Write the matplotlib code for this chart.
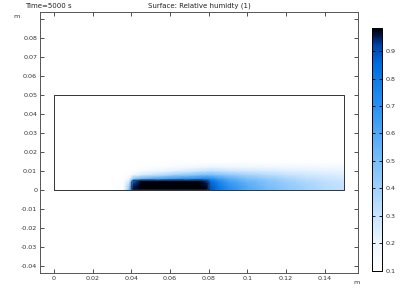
import numpy as np
import matplotlib
matplotlib.use('Agg')
import matplotlib.pyplot as plt
from matplotlib.colors import LinearSegmentedColormap
from matplotlib.patches import FancyBboxPatch

# malla de muestreo (m) y humedad relativa
xs = [0, 0.03, 0.036, 0.039, 0.041, 0.045, 0.06, 0.075, 0.079, 0.081,
      0.085, 0.09, 0.1, 0.11, 0.12, 0.13, 0.14, 0.15]
ys = [0, 0.002, 0.004, 0.005, 0.006, 0.008, 0.010, 0.012, 0.014, 0.016, 0.05]
hr = [
    [0.1, 0.1, 0.15, 0.5, 0.97, 1.0, 1.0, 1.0, 0.98, 0.9, 0.82, 0.72, 0.6, 0.52, 0.45, 0.4, 0.35, 0.32],
    [0.1, 0.1, 0.13, 0.42, 0.95, 1.0, 1.0, 1.0, 0.97, 0.88, 0.8, 0.7, 0.58, 0.5, 0.44, 0.39, 0.34, 0.31],
    [0.1, 0.1, 0.12, 0.32, 0.9, 1.0, 1.0, 1.0, 0.95, 0.86, 0.76, 0.66, 0.55, 0.48, 0.42, 0.37, 0.33, 0.3],
    [0.1, 0.1, 0.11, 0.26, 0.85, 0.96, 0.96, 0.96, 0.9, 0.82, 0.72, 0.62, 0.52, 0.46, 0.4, 0.35, 0.31, 0.29],
    [0.1, 0.1, 0.1, 0.2, 0.45, 0.55, 0.65, 0.72, 0.74, 0.72, 0.65, 0.58, 0.49, 0.43, 0.38, 0.33, 0.3, 0.27],
    [0.1, 0.1, 0.1, 0.12, 0.18, 0.25, 0.38, 0.48, 0.5, 0.5, 0.47, 0.44, 0.39, 0.35, 0.31, 0.28, 0.26, 0.24],
    [0.1, 0.1, 0.1, 0.1, 0.11, 0.14, 0.22, 0.3, 0.32, 0.33, 0.32, 0.3, 0.28, 0.26, 0.24, 0.23, 0.22, 0.21],
    [0.1, 0.1, 0.1, 0.1, 0.1, 0.11, 0.14, 0.19, 0.2, 0.21, 0.21, 0.2, 0.19, 0.19, 0.18, 0.18, 0.17, 0.17],
    [0.1, 0.1, 0.1, 0.1, 0.1, 0.1, 0.11, 0.12, 0.13, 0.13, 0.13, 0.13, 0.13, 0.12, 0.12, 0.12, 0.12, 0.12],
    [0.1] * 18,
    [0.1] * 18,
]

xticks = [0, 0.02, 0.04, 0.06, 0.08, 0.1, 0.12, 0.14]
xlabels = ['0', '0.02', '0.04', '0.06', '0.08', '0.1', '0.12', '0.14']
yticks = [-0.04, -0.03, -0.02, -0.01, 0, 0.01, 0.02, 0.03, 0.04, 0.05, 0.06, 0.07, 0.08, 0.09]
ylabels = ['-0.04', '-0.03', '-0.02', '-0.01', '0', '0.01', '0.02', '0.03',
           '0.04', '0.05', '0.06', '0.07', '0.08', '']
cbticks = [0.1, 0.2, 0.3, 0.4, 0.5, 0.6, 0.7, 0.8, 0.9]
vmin, vmax = 0.1, 0.984

# mapa de color blanco -> azul -> negro
pos = [0.1, 0.2, 0.3, 0.5, 0.7, 0.85, 0.92, 0.95, 0.984]
cols = [(255, 255, 255), (236, 246, 255), (200, 228, 255), (120, 190, 250),
        (40, 145, 240), (0, 110, 225), (0, 70, 170), (0, 30, 90), (0, 0, 10)]
cmap = LinearSegmentedColormap.from_list(
    'hr', [((p - vmin) / (vmax - vmin), tuple(c / 255 for c in col)) for p, col in zip(pos, cols)])

fig = plt.figure(figsize=(4.2, 2.9), dpi=100)
ax = fig.add_axes([0.0952, 0.0586, 0.7568, 0.8984])

X, Y = np.meshgrid(xs, ys)
malla = ax.pcolormesh(X, Y, np.array(hr), shading='gouraud', cmap=cmap, vmin=vmin, vmax=vmax)

# contorno del dominio y del bloque
ax.plot([0, 0.15, 0.15, 0, 0], [0, 0, 0.05, 0.05, 0], color='#333333', lw=0.7)
ax.add_patch(FancyBboxPatch((0.04, 0), 0.04, 0.005, boxstyle='round,pad=0,rounding_size=0.0015',
                            fc='none', ec='#2a3a4a', lw=0.6))

ax.set_xlim(-0.00724, 0.1571)
ax.set_ylim(-0.0437, 0.0934)
ax.set_xticks(xticks)
ax.set_xticklabels(xlabels)
ax.set_yticks(yticks)
ax.set_yticklabels(ylabels)
ax.tick_params(direction='in', length=3, width=0.6, top=True, right=True,
               labelsize=4.6, labelcolor='#333333', color='#333333', pad=2)
for s in ax.spines.values():
    s.set_linewidth(0.7)
    s.set_color('#555555')

fig.text(25 / 420, 1 - 6 / 290, 'Time=5000 s', fontsize=5, color='#222222', va='center')
fig.text(199 / 420, 1 - 6 / 290, 'Surface: Relative humidty (1)', fontsize=5, color='#222222',
         va='center', ha='center')
fig.text(17 / 420, 1 - 17 / 290, 'm', fontsize=4.6, color='#333333', va='center', ha='center')
fig.text(357 / 420, 1 - 282 / 290, 'm', fontsize=4.6, color='#333333', va='center', ha='center')

cax = fig.add_axes([0.885, 0.0666, 0.024, 0.8368])
cb = fig.colorbar(malla, cax=cax, ticks=cbticks)
cb.ax.tick_params(direction='in', length=2, width=0.6, left=True, right=True,
                  labelsize=4.6, labelcolor='#333333', pad=3)
cb.outline.set_linewidth(0.7)

fig.savefig('out.png', dpi=100)
